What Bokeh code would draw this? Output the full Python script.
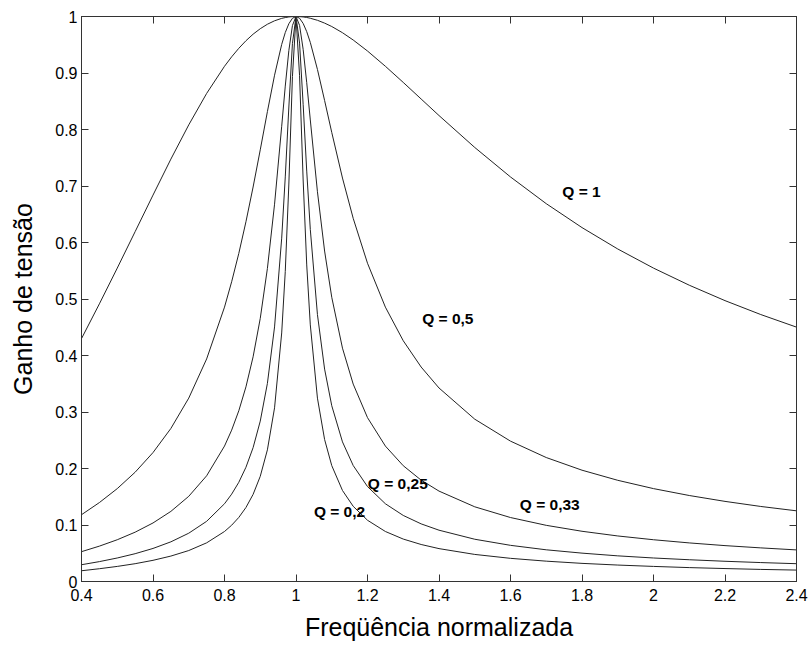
from bokeh.plotting import figure
from bokeh.models import (LinearAxis, FixedTicker, CustomJSTickFormatter, Label, Range1d,
                          CustomLabelingPolicy)
from bokeh.embed import file_html
from bokeh.resources import INLINE

# normalized frequency (x) and voltage gain for each curve
freq = [0.40, 0.45, 0.50, 0.55, 0.60, 0.65, 0.70, 0.75, 0.80, 0.82, 0.84, 0.86, 0.88,
        0.90, 0.92, 0.94, 0.96, 0.97, 0.98, 0.99, 1.00, 1.01, 1.02, 1.03, 1.04, 1.06,
        1.08, 1.10, 1.13, 1.16, 1.20, 1.25, 1.30, 1.35, 1.40, 1.50, 1.60, 1.70, 1.80,
        1.90, 2.00, 2.10, 2.20, 2.30, 2.40]

gain_q1 = [0.4299, 0.4914, 0.5547, 0.6192, 0.6839, 0.7476, 0.8082, 0.8638, 0.9119, 0.9286,
           0.9437, 0.9571, 0.9687, 0.9784, 0.9863, 0.9924, 0.9967, 0.9981, 0.9992, 0.9998,
           1.0, 0.9998, 0.9992, 0.9983, 0.9969, 0.9933, 0.9883, 0.9823, 0.9713, 0.9584,
           0.9389, 0.9119, 0.8833, 0.8540, 0.8247, 0.7682, 0.7160, 0.6687, 0.6264, 0.5885,
           0.5547, 0.5244, 0.4971, 0.4725, 0.4502]

gain_q05 = [0.1182, 0.1397, 0.1644, 0.1934, 0.2282, 0.2709, 0.3246, 0.3939, 0.4856, 0.5305,
            0.5807, 0.6367, 0.6982, 0.7640, 0.8316, 0.8961, 0.9506, 0.9716, 0.9872, 0.9968,
            1.0, 0.9969, 0.9877, 0.9732, 0.9541, 0.9063, 0.8513, 0.7948, 0.7141, 0.6428,
            0.5633, 0.4856, 0.4261, 0.3796, 0.3425, 0.2873, 0.2484, 0.2194, 0.1970, 0.1791,
            0.1644, 0.1522, 0.1418, 0.1328, 0.1251]

gain_q033 = [0.0528, 0.0626, 0.0739, 0.0873, 0.1036, 0.1241, 0.1508, 0.1871, 0.2397, 0.2679,
             0.3022, 0.3445, 0.3977, 0.4657, 0.5540, 0.6678, 0.8057, 0.8768, 0.9398, 0.9840,
             1.0, 0.9843, 0.9419, 0.8828, 0.8169, 0.6898, 0.5849, 0.5030, 0.4130, 0.3494,
             0.2900, 0.2397, 0.2049, 0.1794, 0.1600, 0.1322, 0.1132, 0.0994, 0.0889, 0.0806,
             0.0739, 0.0683, 0.0635, 0.0595, 0.0559]

gain_q025 = [0.0297, 0.0352, 0.0416, 0.0492, 0.0585, 0.0702, 0.0855, 0.1065, 0.1376, 0.1546,
             0.1756, 0.2022, 0.2369, 0.2839, 0.3506, 0.4506, 0.6077, 0.7161, 0.8398, 0.9520,
             1.0, 0.9529, 0.8446, 0.7264, 0.6231, 0.4724, 0.3759, 0.3111, 0.2471, 0.2053,
             0.1680, 0.1376, 0.1169, 0.1020, 0.0908, 0.0748, 0.0640, 0.0561, 0.0502, 0.0454,
             0.0416, 0.0385, 0.0358, 0.0335, 0.0315]

gain_q02 = [0.0190, 0.0226, 0.0267, 0.0315, 0.0375, 0.0450, 0.0548, 0.0684, 0.0885, 0.0996,
            0.1134, 0.1310, 0.1542, 0.1862, 0.2330, 0.3074, 0.4399, 0.5488, 0.7035, 0.8936,
            1.0, 0.8953, 0.7106, 0.5603, 0.4542, 0.3245, 0.2513, 0.2051, 0.1611, 0.1331,
            0.1084, 0.0885, 0.0751, 0.0655, 0.0582, 0.0479, 0.0410, 0.0360, 0.0321, 0.0291,
            0.0267, 0.0246, 0.0229, 0.0214, 0.0202]

series = [gain_q1, gain_q05, gain_q033, gain_q025, gain_q02]
curve_labels = ["Q = 1", "Q = 0,5", "Q = 0,33", "Q = 0,25", "Q = 0,2"]
label_x = [1.745, 1.353, 1.626, 1.201, 1.050]
label_y = [0.690, 0.466, 0.137, 0.174, 0.124]

x_ticks = [0.4, 0.6, 0.8, 1.0, 1.2, 1.4, 1.6, 1.8, 2.0, 2.2, 2.4]
y_ticks = [0.0, 0.1, 0.2, 0.3, 0.4, 0.5, 0.6, 0.7, 0.8, 0.9, 1.0]

x_title = "Freqüência normalizada"
y_title = "Ganho de tensão"

FONT = "Liberation Sans"
AXIS_COLOR = "#333333"
LINE_COLOR = "#222222"

p = figure(frame_width=715, frame_height=565,
           x_range=Range1d(0.4, 2.4), y_range=Range1d(0, 1),
           output_backend="svg", toolbar_location=None,
           min_border_left=81, min_border_top=16, min_border_right=8, min_border_bottom=64)

p.xgrid.visible = False
p.ygrid.visible = False
p.outline_line_color = AXIS_COLOR
p.background_fill_color = "white"
p.border_fill_color = "white"

fmt = CustomJSTickFormatter(code="return String(Math.round(tick*10)/10);")

for ax, ticks in ((p.xaxis[0], x_ticks), (p.yaxis[0], y_ticks)):
    ax.ticker = FixedTicker(ticks=ticks)
    ax.formatter = fmt
    ax.major_tick_in = 7
    ax.major_tick_out = 0
    ax.minor_tick_in = 0
    ax.minor_tick_out = 0
    ax.axis_line_color = AXIS_COLOR
    ax.major_tick_line_color = AXIS_COLOR
    ax.major_label_text_font = FONT
    ax.major_label_text_font_size = "16px"
    ax.major_label_text_color = "black"
    ax.axis_label_text_font = FONT
    ax.axis_label_text_font_size = "25px"
    ax.axis_label_text_font_style = "normal"
    ax.axis_label_text_color = "black"

p.xaxis[0].axis_label = x_title
p.xaxis[0].major_label_standoff = 7
p.xaxis[0].axis_label_standoff = 9
p.yaxis[0].axis_label = y_title
p.yaxis[0].major_label_standoff = 4
p.yaxis[0].axis_label_standoff = 15

no_labels = CustomLabelingPolicy(code="return [];")
top_axis = LinearAxis(ticker=FixedTicker(ticks=x_ticks), major_label_policy=no_labels,
                      major_label_standoff=0, major_tick_in=7, major_tick_out=0,
                      minor_tick_in=0, minor_tick_out=0, axis_line_color=AXIS_COLOR,
                      major_tick_line_color=AXIS_COLOR)
right_axis = LinearAxis(ticker=FixedTicker(ticks=y_ticks), major_label_policy=no_labels,
                        major_label_standoff=0, major_tick_in=7, major_tick_out=0,
                        minor_tick_in=0, minor_tick_out=0, axis_line_color=AXIS_COLOR,
                        major_tick_line_color=AXIS_COLOR)
p.add_layout(top_axis, "above")
p.add_layout(right_axis, "right")

for s in series:
    p.line(freq, s, line_color=LINE_COLOR, line_width=1)

for txt, lx, ly in zip(curve_labels, label_x, label_y):
    p.add_layout(Label(x=lx, y=ly, text=txt, text_font=FONT, text_font_style="bold",
                       text_font_size="15.5px", text_baseline="middle", text_align="left",
                       text_color="black"))

open("out.html", "w").write(file_html(p, INLINE))
